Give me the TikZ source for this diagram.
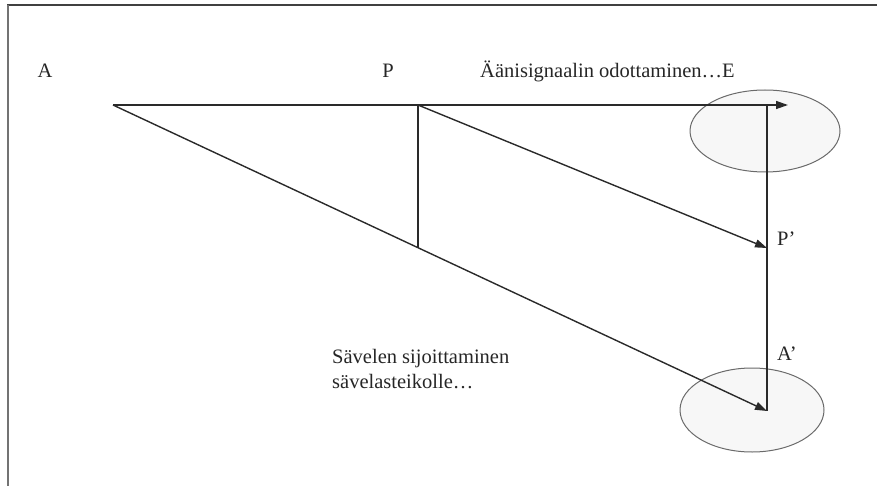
\documentclass[tikz,border=0pt]{standalone}
\usepackage{fontspec}
\setmainfont{Liberation Serif}
\usetikzlibrary{arrows.meta}
\definecolor{linegray}{HTML}{2A2A2A}
\definecolor{ellfill}{HTML}{F7F7F7}
\definecolor{ellline}{HTML}{6A6A6A}
\tikzset{
  conn/.style={draw=linegray, line width=1.4pt},
  arr/.style={conn, -{Triangle[length=12pt,width=8pt]}},
  blob/.style={draw=ellline, fill=ellfill, line width=1pt},
  lbl/.style={font=\fontsize{20.5}{25}\selectfont, text=black!85, inner sep=0pt},
}
\begin{document}
\begin{tikzpicture}[x=1pt,y=-1pt]
\useasboundingbox (0,0) rectangle (877,486);
% frame
\draw[draw=black!75, line width=1.5pt] (7,5) -- (877,5);
\draw[draw=black!55, line width=2pt] (8,5) -- (8,486);
% ellipses
\draw[blob] (765,131) ellipse [x radius=75, y radius=41];
\draw[blob] (752,410) ellipse [x radius=72, y radius=42];
% points
\coordinate (a) at (113,105);
\coordinate (p) at (418,105);
\coordinate (e) at (788,105);
\coordinate (vtop) at (767,105);
\coordinate (pp) at (767,248);
\coordinate (ap) at (767,411);
\coordinate (pfoot) at (418,248);
% connectors
\draw[arr] (a) -- (e);
\draw[conn] (vtop) -- (ap);
\draw[conn] (p) -- (pfoot);
\draw[arr] (p) -- (pp);
\draw[arr] (a) -- (ap);
% labels
\node[lbl, anchor=base] (la) at (45,78) {A};
\node[lbl, anchor=base] (lp) at (388,78) {P};
\node[lbl, anchor=base west] (le) at (480,78) {Äänisignaalin odottaminen…E};
\node[lbl, anchor=base west] (lpp) at (777,245) {P’};
\node[lbl, anchor=base west] (lap) at (777,360) {A’};
\node[lbl, anchor=base west, align=left] (ls) at (332,388) {Sävelen sijoittaminen\\sävelasteikolle…};
\end{tikzpicture}
\end{document}
